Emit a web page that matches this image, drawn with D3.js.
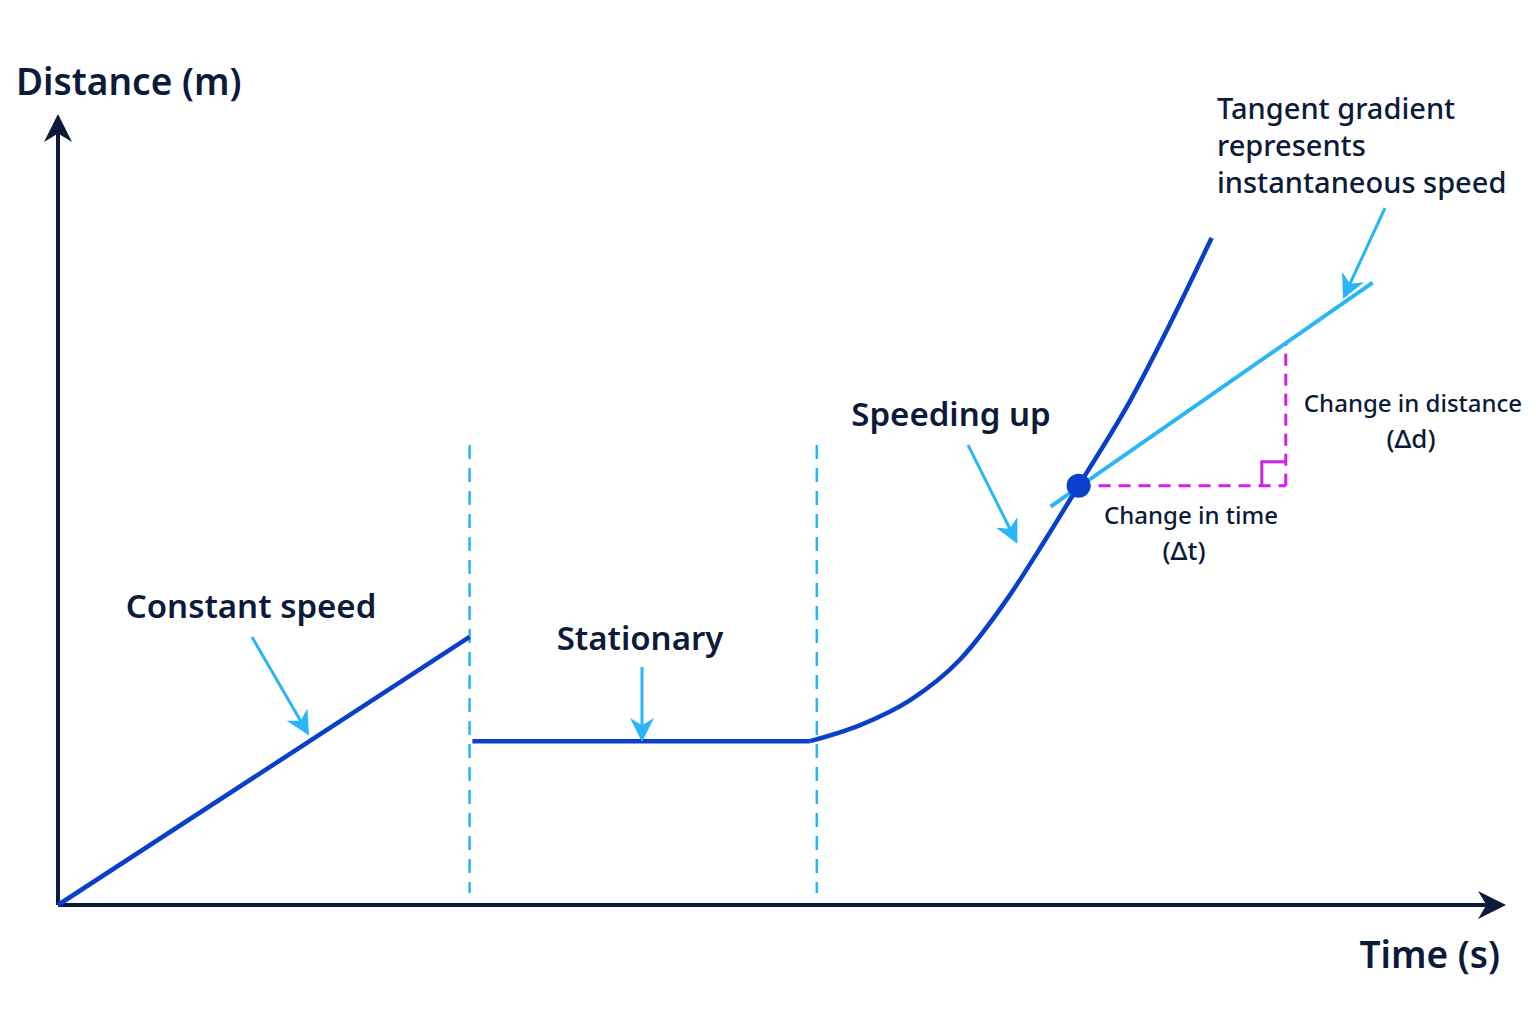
<!DOCTYPE html>
<html><head><meta charset="utf-8">
<script src="https://cdn.jsdelivr.net/npm/d3@7"></script>
<style>body{margin:0;background:#fff}text{font-family:"Noto Sans",sans-serif;fill:#0d1b3a}</style>
</head><body>
<svg id="c" width="1536" height="1024"></svg>
<script>
// data (time units, distance units)
const constantSpeed = [[0, 0], [2.94, 3.83]];
const stationary = [[2.96, 2.34], [5.0, 2.34], [5.37, 2.34]];
const speedingUp = [[5.37, 2.34], [5.73, 2.57], [6.09, 2.93], [6.44, 3.50], [6.80, 4.43], [7.05, 5.21], [7.29, 5.99], [7.66, 7.21], [7.94, 8.29], [8.24, 9.53]];
const tangent = [[7.09, 5.69], [9.39, 8.89]];
const tangentPoint = [7.29, 5.99];
const phaseBounds = [2.94, 5.42];
const deltaT = [[7.29, 5.99], [8.77, 5.99]];
const deltaD = [[8.77, 5.99], [8.77, 8.03]];

const svg = d3.select("#c");
const x = d3.scaleLinear().domain([0, 10]).range([58, 1458]);
const y = d3.scaleLinear().domain([0, 10]).range([905, 205]);
const line = d3.line().x(d => x(d[0])).y(d => y(d[1]));
const curve = d3.line().x(d => x(d[0])).y(d => y(d[1])).curve(d3.curveMonotoneX);

const defs = svg.append("defs");
function marker(id, color, size) {
    defs.append("marker").attr("id", id).attr("viewBox", "0 0 10 10")
        .attr("refX", 5).attr("refY", 5).attr("markerWidth", size).attr("markerHeight", size)
        .attr("markerUnits", "userSpaceOnUse").attr("orient", "auto")
        .append("path").attr("d", "M0,0 L10,5 L0,10 L3,5 Z").attr("fill", color);
}
marker("ax", "#0d1b3a", 28);
marker("ar", "#29b6f6", 24);

const dark = "#0d1b3a", blue = "#0a3fcc", light = "#29b6f6", mag = "#d21ee6";

// axes
svg.append("line").attr("x1", 58).attr("y1", 905).attr("x2", 1492).attr("y2", 905)
    .attr("stroke", dark).attr("stroke-width", 4).attr("marker-end", "url(#ax)");
svg.append("line").attr("x1", 58).attr("y1", 905).attr("x2", 58).attr("y2", 128)
    .attr("stroke", dark).attr("stroke-width", 4).attr("marker-end", "url(#ax)");

// phase boundaries
phaseBounds.forEach(b => svg.append("line")
    .attr("x1", x(b)).attr("x2", x(b)).attr("y1", y(6.57)).attr("y2", y(0.17))
    .attr("stroke", light).attr("stroke-width", 2.5).attr("stroke-dasharray", "14,9"));

// magenta deltas
[deltaT, deltaD].forEach(s => svg.append("path").attr("d", line(s)).attr("fill", "none")
    .attr("stroke", mag).attr("stroke-width", 3).attr("stroke-dasharray", "12,8"));
svg.append("path").attr("d", `M${x(8.77) - 24},${y(5.99)} V${y(5.99) - 24} H${x(8.77)}`)
    .attr("fill", "none").attr("stroke", mag).attr("stroke-width", 3);

// distance-time graph
[constantSpeed, stationary].forEach(s => svg.append("path").attr("d", line(s))
    .attr("fill", "none").attr("stroke", blue).attr("stroke-width", 4.5));
svg.append("path").attr("d", curve(speedingUp)).attr("fill", "none")
    .attr("stroke", blue).attr("stroke-width", 4.5);
svg.append("path").attr("d", line(tangent)).attr("fill", "none")
    .attr("stroke", light).attr("stroke-width", 4);
svg.append("circle").attr("cx", x(tangentPoint[0])).attr("cy", y(tangentPoint[1]))
    .attr("r", 12).attr("fill", blue);

// annotation arrows
const arrows = [[252, 637, 303, 725], [642, 667, 642, 730], [968, 445, 1012, 533], [1385, 208, 1348, 288]];
arrows.forEach(a => svg.append("line").attr("x1", a[0]).attr("y1", a[1]).attr("x2", a[2]).attr("y2", a[3])
    .attr("stroke", light).attr("stroke-width", 3).attr("marker-end", "url(#ar)"));

// text
function label(t, px, py, size, weight, anchor) {
    svg.append("text").attr("x", px).attr("y", py).attr("font-size", size)
        .attr("font-weight", weight).attr("text-anchor", anchor || "start").text(t);
}
label("Distance (m)", 16, 95, 37, 600);
label("Time (s)", 1500, 968, 37, 600, "end");
label("Constant speed", 251, 618, 33, 600, "middle");
label("Stationary", 640, 650, 33, 600, "middle");
label("Speeding up", 951, 426, 33, 600, "middle");
label("Tangent gradient", 1217, 119, 29, 500);
label("represents", 1217, 156, 29, 500);
label("instantaneous speed", 1217, 193, 29, 500);
label("Change in distance", 1413, 412, 24, 500, "middle");
label("(Δd)", 1411, 448, 26, 500, "middle");
label("Change in time", 1191, 524, 24, 500, "middle");
label("(Δt)", 1184, 560, 26, 500, "middle");
</script>
</body></html>
